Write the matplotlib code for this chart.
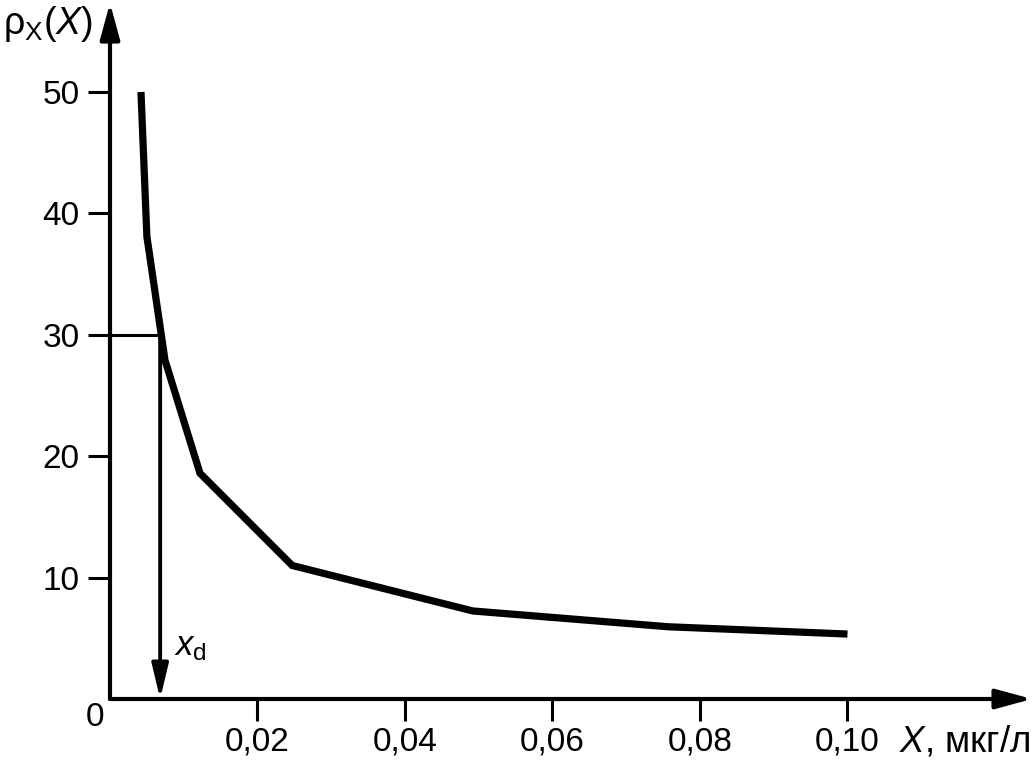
import matplotlib
matplotlib.use("Agg")
import matplotlib.pyplot as plt

plt.rcParams['font.family'] = ['Liberation Sans', 'DejaVu Sans']
plt.rcParams['mathtext.fontset'] = 'custom'
plt.rcParams['mathtext.rm'] = 'Liberation Sans'
plt.rcParams['mathtext.it'] = 'Liberation Sans:italic'

# данные кривой
conc = [0.0042, 0.0050, 0.00746, 0.0122, 0.0247, 0.0492, 0.0757, 0.100]
rho = [50.0, 38.1, 27.9, 18.6, 11.0, 7.25, 5.95, 5.35]

x_ticks = [0.02, 0.04, 0.06, 0.08, 0.10]
x_labels = ['0,02', '0,04', '0,06', '0,08', '0,10']
y_ticks = [10, 20, 30, 40, 50]

rho_level = 30
x_d = 0.0068

fig = plt.figure(figsize=(10.36, 7.63), dpi=100)
ax = fig.add_axes([110/1036, 64/763, 922/1036, 696/763])
ax.set_xlim(0, 0.12502)
ax.set_ylim(0, 57.33)

for s in ax.spines.values():
    s.set_visible(False)

# оси со стрелками
arr = dict(arrowstyle='-|>,head_length=2.2,head_width=0.6', lw=3, color='k',
           shrinkA=0, shrinkB=0, mutation_scale=10)
ax.annotate('', xy=(0, 1), xytext=(0, 0), xycoords='axes fraction', arrowprops=arr)
ax.annotate('', xy=(1, 0), xytext=(0, 0), xycoords='axes fraction', arrowprops=arr)

ax.plot(conc, rho, color='k', lw=5.2, solid_joinstyle='miter', solid_capstyle='butt')

# уровень 30 и стрелка x_d
ax.plot([0, x_d], [rho_level, rho_level], color='k', lw=2.2, solid_capstyle='butt')
ax.annotate('', xy=(x_d, 0), xytext=(x_d, rho_level), xycoords='data',
            arrowprops=dict(arrowstyle='-|>,head_length=2.1,head_width=0.5', lw=2.8,
                            color='k', shrinkA=0, shrinkB=0, mutation_scale=10))
ax.text(x_d + 0.0019, 4.3, r'$\mathit{x}_\mathrm{d}$', fontsize=25, ha='left', va='center')

ax.set_xticks(x_ticks)
ax.set_xticklabels(x_labels)
ax.set_yticks(y_ticks)
ax.tick_params(axis='both', direction='out', length=16, width=2.2, labelsize=24, color='k')
ax.tick_params(axis='x', pad=4)
ax.tick_params(axis='y', pad=6)

ax.annotate('0', xy=(0, 0), xycoords='data', xytext=(-11, -13), textcoords='offset points',
            fontsize=24, ha='center', va='center')

fig.text(3/1036, 1 - 24/763, r'ρ$_\mathrm{X}$($\mathit{X}$)', fontsize=27, ha='left', va='center')
fig.text(1030/1036, 1 - 742/763, r'$\mathit{X}$, мкг/л', fontsize=26.5, ha='right', va='center')

fig.savefig('out.png', dpi=100)
